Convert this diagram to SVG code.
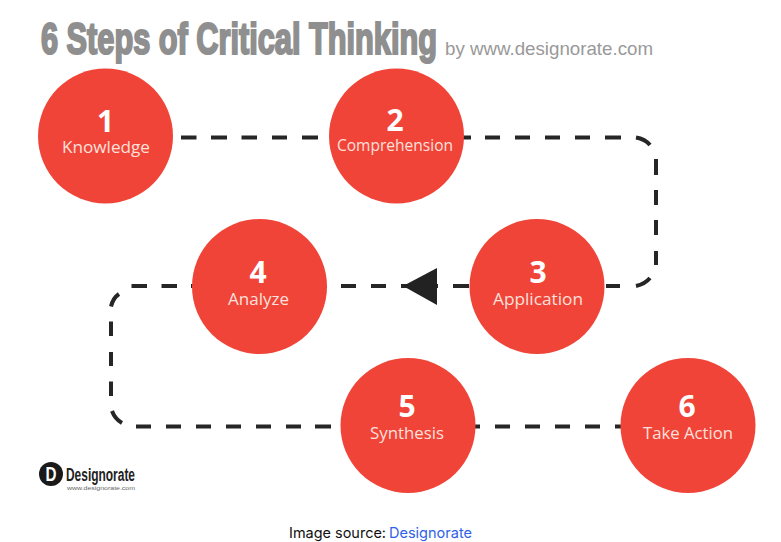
<svg xmlns="http://www.w3.org/2000/svg" width="781" height="542" viewBox="0 0 781 542">
<style>
.c{fill:#f04438}
.n{font:700 30px "Open Sans",sans-serif;fill:#fff;text-anchor:middle}
.l{font:400 16.5px "Open Sans",sans-serif;fill:#fde0dc;text-anchor:middle}
.d{fill:none;stroke:#262626;stroke-width:4}
</style>
<rect width="781" height="542" fill="#fff"/>
<g id="title">
<text x="41" y="54" font-family="Liberation Sans,sans-serif" font-weight="700" font-size="44" fill="#8f8f8f" stroke="#8f8f8f" stroke-width="2.200" textLength="396" lengthAdjust="spacingAndGlyphs">6 Steps of Critical Thinking</text>
<text x="445" y="55" font-family="Liberation Sans,sans-serif" font-size="18.500" fill="#999" textLength="208" lengthAdjust="spacingAndGlyphs">by www.designorate.com</text>
</g>
<g id="connectors">
<path class="d" d="M181 137.500H196.500M211 137.500H227M241.500 137.500H257M272 137.500H287M302 137.500H318M463 137.500H471M485 137.500H500M515 137.500H530M545 137.500H560M575 137.500H590M605 137.500H621M636 137.500Q645 139 650 145M656 159V175M656 190V205M656 220V235M656 251V265M650 278Q645 284 636 286M606 286H620M453 286H469M341 286H356M371 286H386M401 286H438M131.500 286H147M161.500 286H177M191 286H193M119 294Q113 298 111 306.500M111 321.500V336M111 352V366M111 381.500V396M112 411Q115 419 122 423M136 426.500H151M166 426.500H181M196 426.500H211M226 426.500H241M256 426.500H271M286 426.500H301M315 426.500H331M475 426.500H480M495 426.500H510M525 426.500H540M555 426.500H570M585 426.500H600M615 426.500H621"/>
<polygon points="403,286 437,268 437,305" fill="#222"/>
</g>
<g id="node1"><circle class="c" cx="105.500" cy="136" r="67.500"/><text class="n" x="105.500" y="132">1</text><text class="l" x="106" y="153" textLength="88" lengthAdjust="spacingAndGlyphs">Knowledge</text></g>
<g id="node2"><circle class="c" cx="396.500" cy="136" r="67.500"/><text class="n" x="395" y="131">2</text><text class="l" x="395" y="151" textLength="116" lengthAdjust="spacingAndGlyphs">Comprehension</text></g>
<g id="node3"><circle class="c" cx="537" cy="286.500" r="67.500"/><text class="n" x="538" y="283">3</text><text class="l" x="538" y="305" textLength="90" lengthAdjust="spacingAndGlyphs">Application</text></g>
<g id="node4"><circle class="c" cx="259.500" cy="286.500" r="67.500"/><text class="n" x="258" y="283">4</text><text class="l" x="258.500" y="305" textLength="61" lengthAdjust="spacingAndGlyphs">Analyze</text></g>
<g id="node5"><circle class="c" cx="408" cy="425.500" r="67.500"/><text class="n" x="407" y="417">5</text><text class="l" x="407" y="439" textLength="74" lengthAdjust="spacingAndGlyphs">Synthesis</text></g>
<g id="node6"><circle class="c" cx="688" cy="425.500" r="67.500"/><text class="n" x="687" y="417">6</text><text class="l" x="688" y="439" textLength="90" lengthAdjust="spacingAndGlyphs">Take Action</text></g>
<g id="logo">
<circle cx="51" cy="474" r="12" fill="#1a1a1a"/>
<text x="51" y="481" font-family="Liberation Sans,sans-serif" font-weight="700" font-size="20" fill="#fff" text-anchor="middle" textLength="11" lengthAdjust="spacingAndGlyphs">D</text>
<text x="66" y="481" font-family="Liberation Sans,sans-serif" font-weight="700" font-size="18" fill="#222" textLength="69" lengthAdjust="spacingAndGlyphs">Designorate</text>
<text x="67" y="490" font-family="Liberation Sans,sans-serif" font-size="6" fill="#666" textLength="68" lengthAdjust="spacingAndGlyphs">www.designorate.com</text>
</g>
<g id="caption">
<text x="289" y="538" font-family="Inter,sans-serif" font-size="14.500" fill="#111" textLength="97" lengthAdjust="spacingAndGlyphs">Image source:</text>
<text x="389" y="538" font-family="Inter,sans-serif" font-size="14.500" fill="#2f62e8" textLength="83" lengthAdjust="spacingAndGlyphs">Designorate</text>
</g>
</svg>
